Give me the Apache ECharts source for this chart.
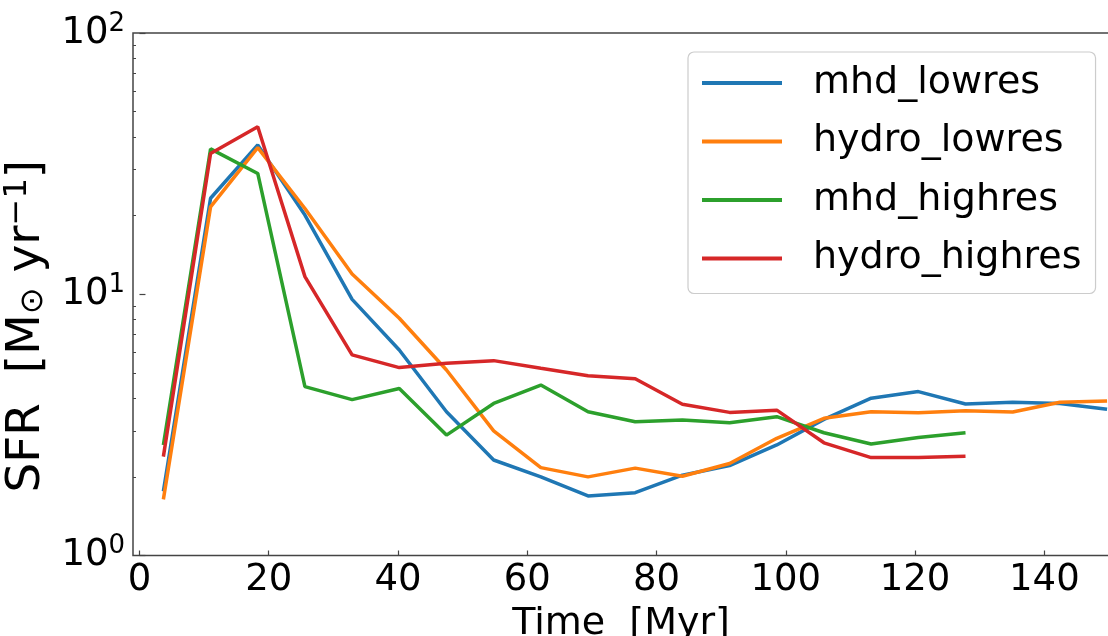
<!DOCTYPE html>
<html>
<head>
<meta charset="utf-8">
<script src="https://cdn.jsdelivr.net/npm/echarts@6/dist/echarts.min.js"></script>
<style>
html,body{margin:0;padding:0;background:#fff;}
#chart{width:1108px;height:636px;}
</style>
</head>
<body>
<div id="chart"></div>
<script>
// Time (Myr) of each output
var times = [3.7, 11.0, 18.3, 25.6, 32.9, 40.2, 47.5, 54.8, 62.1, 69.4, 76.7, 84.0, 91.3, 98.6, 105.9, 113.2, 120.5, 127.8, 135.1, 142.4, 149.7];
// SFR values (Msun/yr)
var mhdLowres    = [1.76, 23.3, 37.3, 20.1, 9.56, 6.12, 3.55, 2.32, 2.00, 1.69, 1.74, 2.03, 2.21, 2.65, 3.32, 4.00, 4.24, 3.80, 3.86, 3.82, 3.63];
var hydroLowres  = [1.64, 21.6, 36.4, 21.3, 11.95, 8.09, 5.13, 3.00, 2.17, 2.00, 2.16, 2.01, 2.25, 2.81, 3.35, 3.55, 3.52, 3.58, 3.54, 3.86, 3.90];
var mhdHighres   = [2.65, 36.0, 29.0, 4.43, 3.95, 4.36, 2.89, 3.82, 4.49, 3.55, 3.25, 3.30, 3.22, 3.40, 2.95, 2.67, 2.83, 2.95];
var hydroHighres = [2.39, 34.6, 43.8, 11.68, 5.86, 5.24, 5.44, 5.57, 5.21, 4.88, 4.75, 3.79, 3.53, 3.60, 2.70, 2.37, 2.37, 2.40];
var seriesNames = ['mhd_lowres', 'hydro_lowres', 'mhd_highres', 'hydro_highres'];
var seriesColors = ['#1f77b4', '#ff7f0e', '#2ca02c', '#d62728'];
var xTicks = [0, 20, 40, 60, 80, 100, 120, 140];
var yTicks = [1, 10, 100];
var yMinorTicks = [2, 3, 4, 5, 6, 7, 8, 9, 20, 30, 40, 50, 60, 70, 80, 90];

function pairs(vals) {
  var out = [];
  for (var i = 0; i < vals.length; i++) out.push([times[i], vals[i]]);
  return out;
}
var allVals = [mhdLowres, hydroLowres, mhdHighres, hydroHighres];
var FONT = 'DejaVu Sans';

var chart = echarts.init(document.getElementById('chart'), null, {renderer: 'canvas'});
var series = seriesNames.map(function (n, i) {
  return {
    name: n,
    type: 'line',
    data: pairs(allVals[i]),
    symbol: 'none',
    showSymbol: false,
    smooth: false,
    clip: true,
    lineStyle: {color: seriesColors[i], width: 3.5},
    itemStyle: {color: seriesColors[i]},
    xAxisIndex: 0,
    yAxisIndex: 0,
    animation: false
  };
});

chart.setOption({
  animation: false,
  backgroundColor: '#fff',
  grid: {
    left: 133, top: 33, width: 976, height: 522.5,
    outerBoundsMode: 'none', containLabel: false,
    show: true, borderColor: '#444', borderWidth: 1.5, backgroundColor: 'transparent'
  },
  legend: {
    orient: 'vertical',
    left: 688, top: 52,
    data: seriesNames,
    icon: 'rect',
    itemWidth: 80, itemHeight: 4,
    itemGap: 18.5,
    padding: [11, 14, 15, 14],
    backgroundColor: 'rgba(255,255,255,0.8)',
    borderColor: '#cccccc', borderWidth: 1.2, borderRadius: 6,
    textStyle: {fontFamily: FONT, fontSize: 38, color: '#000', lineHeight: 40, padding: [0, 0, 0, 26]}
  },
  xAxis: [{
    type: 'value', min: -1, max: 150,
    name: 'Time  [Myr]', nameLocation: 'middle', nameGap: 50,
    nameTextStyle: {fontFamily: FONT, fontSize: 38, color: '#000'},
    axisLine: {show: false},
    axisTick: {show: true, inside: true, length: 5, lineStyle: {color: '#444', width: 1.2}, customValues: xTicks},
    axisLabel: {fontFamily: FONT, fontSize: 37, color: '#000', margin: 6, customValues: xTicks},
    splitLine: {show: false}
  }],
  yAxis: [{
    type: 'log', logBase: 10, min: 1, max: 100,
    name: '{a|SFR  [M}{sub|⊙}{a| yr}{sup|−1}{a|]}{pad|}',
    nameLocation: 'middle', nameGap: 59, nameRotate: 90,
    nameTextStyle: {
      fontFamily: FONT, color: '#000',
      rich: {
        a: {fontFamily: FONT, fontSize: 47, color: '#000'},
        sub: {fontFamily: FONT, fontSize: 32, color: '#000', padding: [14, 0, 0, 0]},
        sup: {fontFamily: FONT, fontSize: 32, color: '#000', padding: [0, 0, 19, 0]},
        pad: {width: 64, height: 10}
      }
    },
    axisLine: {show: false},
    axisTick: {show: true, inside: true, length: 6, lineStyle: {color: '#444', width: 1.2}, customValues: yTicks},
    axisLabel: {
      margin: 8, customValues: yTicks,
      formatter: function (v) {
        var e = Math.round(Math.log(v) / Math.LN10);
        return '{b|10}{s|' + e + '}';
      },
      rich: {
        b: {fontFamily: FONT, fontSize: 37, color: '#000'},
        s: {fontFamily: FONT, fontSize: 26, color: '#000', padding: [0, 0, 18, 0]}
      }
    },
    splitLine: {show: false}
  }, {
    type: 'log', logBase: 10, min: 1, max: 100, position: 'left',
    axisLine: {show: false},
    axisTick: {show: true, inside: true, length: 3, lineStyle: {color: '#444', width: 1}, customValues: yMinorTicks},
    axisLabel: {show: false},
    splitLine: {show: false}
  }],
  series: series
});
</script>
</body>
</html>
